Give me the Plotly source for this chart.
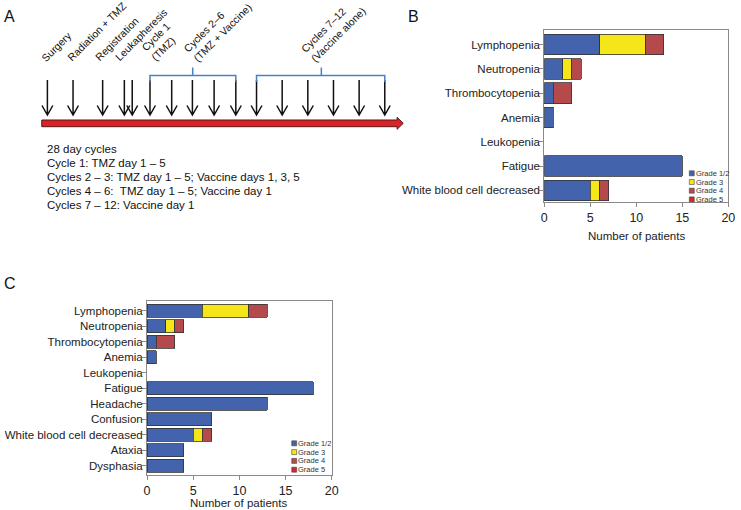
import plotly.graph_objects as go

W, H = 741, 510

# ---- panel B: adverse events (first cohort)
cats_b = ["Lymphopenia", "Neutropenia", "Thrombocytopenia", "Anemia",
          "Leukopenia", "Fatigue", "White blood cell decreased"]
b_g12 = [6, 2, 1, 1, 0, 15, 5]
b_g3 = [5, 1, 0, 0, 0, 0, 1]
b_g4 = [2, 1, 2, 0, 0, 0, 1]
b_g5 = [0, 0, 0, 0, 0, 0, 0]

# ---- panel C: adverse events (all patients)
cats_c = ["Lymphopenia", "Neutropenia", "Thrombocytopenia", "Anemia",
          "Leukopenia", "Fatigue", "Headache", "Confusion",
          "White blood cell decreased", "Ataxia", "Dysphasia"]
c_g12 = [6, 2, 1, 1, 0, 18, 13, 7, 5, 4, 4]
c_g3 = [5, 1, 0, 0, 0, 0, 0, 0, 1, 0, 0]
c_g4 = [2, 1, 2, 0, 0, 0, 0, 0, 1, 0, 0]
c_g5 = [0, 0, 0, 0, 0, 0, 0, 0, 0, 0, 0]

grades = ["Grade 1/2", "Grade 3", "Grade 4", "Grade 5"]
grade_colors = ["#4463ad", "#f5e61a", "#b54a4c", "#d2282c"]
x_ticks = [0, 5, 10, 15, 20]

# ---- panel A: timeline text
events = ["Surgery", "Radiation + TMZ", "Registration", "Leukapheresis",
          "Cycle 1<br>(TMZ)", "Cycles 2–6<br>(TMZ + Vaccine)",
          "Cycles 7–12<br>(Vaccine alone)"]
schedule = ["28 day cycles",
            "Cycle 1: TMZ day 1 – 5",
            "Cycles 2 – 3: TMZ day 1 – 5; Vaccine days 1, 3, 5",
            "Cycles 4 – 6: \u00a0TMZ day 1 – 5; Vaccine day 1",
            "Cycles 7 – 12: Vaccine day 1"]

FONT = "Liberation Sans, Arial, Helvetica, sans-serif"


def px(x):
    return x / W


def py(y):
    return 1 - y / H


def outline(vals):
    # no outline on empty segments (otherwise a stray line shows at 0)
    return [0.8 if v else 0 for v in vals]


fig = go.Figure()

# stacked bars
for vals_b, vals_c, name, col in zip([b_g12, b_g3, b_g4, b_g5], [c_g12, c_g3, c_g4, c_g5], grades, grade_colors):
    fig.add_trace(go.Bar(y=cats_b, x=vals_b, orientation="h", name=name, width=0.85,
                         marker=dict(color=col, line=dict(color="#333333", width=outline(vals_b))),
                         xaxis="x", yaxis="y", showlegend=False))
    fig.add_trace(go.Bar(y=cats_c, x=vals_c, orientation="h", name=name, width=0.84,
                         marker=dict(color=col, line=dict(color="#333333", width=outline(vals_c))),
                         xaxis="x2", yaxis="y2", showlegend=False))

ax = dict(showline=True, mirror=True, linecolor="#8a8a8a", linewidth=1, ticks="outside",
          ticklen=4, tickcolor="#8a8a8a", showgrid=False, zeroline=False,
          tickfont=dict(family=FONT, size=12.5, color="#222"))
yfont = dict(family=FONT, size=11.5, color="#222")
fig.update_layout(
    xaxis=dict(ax, domain=[px(548.7), px(735.3)], range=[0, 20], tickvals=x_ticks, anchor="y"),
    yaxis=dict(ax, domain=[py(202.3), py(30)], range=[6.49, -0.6], anchor="x",
               tickfont=yfont, ticklabelstandoff=-3),
    xaxis2=dict(ax, domain=[px(146), px(333.3)], range=[0, 20], tickvals=x_ticks, anchor="y2"),
    yaxis2=dict(ax, domain=[py(475), py(300.7)], range=[10.6, -0.65], anchor="x2",
                tickfont=yfont, ticklabelstandoff=-3),
)

ann = []
shapes = []

# axis titles
for cx, cy in [(642, 236), (238.7, 502.7)]:
    ann.append(dict(x=px(cx), y=py(cy), xref="paper", yref="paper", text="Number of patients",
                    showarrow=False, font=dict(family=FONT, size=11.5, color="#222"),
                    xanchor="center", yanchor="middle"))

# custom legends
for lx, ly0, dy in [(695.7, 173.3, 8.7), (292.7, 443.3, 8.8)]:
    for i, (name, col) in enumerate(zip(grades, grade_colors)):
        yy = ly0 + i * dy
        shapes.append(dict(type="rect", xref="paper", yref="paper",
                           x0=px(lx), x1=px(lx + 5), y0=py(yy + 2.5), y1=py(yy - 2.5),
                           fillcolor=col, line=dict(color="#444", width=0.6)))
        ann.append(dict(x=px(lx + 5.8), y=py(yy), xref="paper", yref="paper", text=name,
                        showarrow=False, font=dict(family=FONT, size=7.5, color="#333"),
                        xanchor="left", yanchor="middle", borderpad=0))

# panel letters
for letter, lx, ly in [("A", 7, 17), ("B", 416, 17), ("C", 7, 283)]:
    ann.append(dict(x=px(lx), y=py(ly), xref="paper", yref="paper", text=letter, showarrow=False,
                    font=dict(family=FONT, size=16, color="#111"), xanchor="center", yanchor="middle"))

# timeline: red arrow
bar_path = "M {},{} L {},{} L {},{} L {},{} L {},{} L {},{} L {},{} Z".format(
    px(39.3), py(120), px(399.5), py(120), px(399.5), py(117.3), px(405.7), py(123.3),
    px(399.5), py(129.3), px(399.5), py(126.7), px(39.3), py(126.7))
shapes.append(dict(type="path", xref="paper", yref="paper", path=bar_path,
                   fillcolor="#d9232b", line=dict(color="#5a1414", width=1)))

# down arrows
arrow_x = [45, 71, 101, 123, 131, 149, 171, 192, 214, 236, 257, 283, 309, 335, 361, 387]
for x in arrow_x:
    p = "M {},{} L {},{} M {},{} L {},{} L {},{}".format(
        px(x), py(80), px(x), py(115), px(x - 5.5), py(105.5), px(x), py(115), px(x + 5.5), py(105.5))
    shapes.append(dict(type="path", xref="paper", yref="paper", path=p,
                       line=dict(color="#111", width=1.5)))

# blue brackets
for xl, xr, xm in [(149, 236, 192.3), (257, 387, 322.7)]:
    p = "M {},{} L {},{} L {},{} L {},{} M {},{} L {},{}".format(
        px(xl), py(82), px(xl), py(75.5), px(xr), py(75.5), px(xr), py(82),
        px(xm), py(75.5), px(xm), py(67.5))
    shapes.append(dict(type="path", xref="paper", yref="paper", path=p,
                       line=dict(color="#4a80c4", width=1.5)))

# rotated event labels (bbox bottom-left anchor)
label_pos = [(34, 67), (60.5, 66), (88, 66), (108, 66), (134.5, 66), (177.5, 67), (296.5, 67)]
for txt, (lx, ly) in zip(events, label_pos):
    ann.append(dict(x=px(lx), y=py(ly), xref="paper", yref="paper", text=txt, showarrow=False,
                    textangle=-45, align="left", xanchor="left", yanchor="bottom",
                    font=dict(family=FONT, size=10.5, color="#111")))

# schedule text
for i, line in enumerate(schedule):
    ann.append(dict(x=px(43), y=py(149 + i * 14), xref="paper", yref="paper", text=line,
                    showarrow=False, xanchor="left", yanchor="middle",
                    font=dict(family=FONT, size=11.5, color="#111")))

fig.update_layout(
    barmode="stack", width=W, height=H, autosize=False,
    margin=dict(l=0, r=0, t=0, b=0),
    plot_bgcolor="white", paper_bgcolor="white",
    annotations=ann, shapes=shapes, showlegend=False,
    font=dict(family=FONT, color="#222"),
)

# drop the default page margin so the figure fills the window exactly
fig.write_html("out.html", config={"displayModeBar": False},
               post_script="document.body.style.margin='0';")
